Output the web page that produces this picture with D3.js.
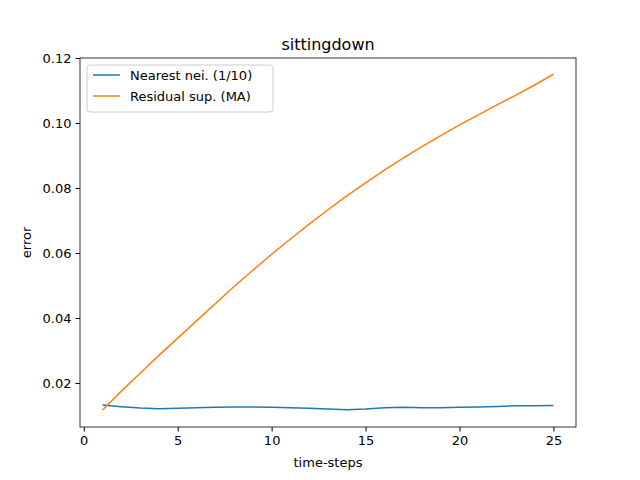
<!DOCTYPE html>
<html><head><meta charset="utf-8">
<script src="https://cdn.jsdelivr.net/npm/d3@7"></script>
<style>body{margin:0;background:#fff}text{font-family:"DejaVu Sans",sans-serif}</style>
</head><body>
<svg id="c" width="640" height="480"></svg>
<script>
const steps = d3.range(1, 26);
const nearest = [0.0132,0.0127,0.0123,0.0121,0.0122,0.0124,0.0125,0.0126,0.0126,0.0125,0.0124,0.0122,0.0120,0.0118,0.0120,0.0124,0.0125,0.0124,0.0124,0.0125,0.0126,0.0128,0.0130,0.0130,0.0131];
const residual = [0.0117,0.0175,0.0230,0.0285,0.0338,0.0391,0.0444,0.0497,0.0547,0.0596,0.0643,0.0689,0.0733,0.0776,0.0816,0.0855,0.0892,0.0927,0.0961,0.0994,0.1025,0.1056,0.1086,0.1117,0.1150];
const xTicks = [0,5,10,15,20,25];
const yTicks = [0.02,0.04,0.06,0.08,0.10,0.12];
const series = [
  {name:'Nearest nei. (1/10)', values:nearest, color:'#1f77b4'},
  {name:'Residual sup. (MA)', values:residual, color:'#ff7f0e'}
];

const svg = d3.select('#c');
const m = {left:80, right:576, top:58, bottom:427};
const x = d3.scaleLinear().domain([-0.2, 26.2]).range([m.left, m.right]);
const y = d3.scaleLinear().domain([0.00646, 0.12]).range([m.bottom, m.top]);

svg.append('g').attr('transform',`translate(0,${m.bottom})`)
  .call(d3.axisBottom(x).tickValues(xTicks).tickSize(4.5).tickPadding(4))
  .call(g=>g.select('.domain').remove())
  .selectAll('text').attr('font-size',13);
svg.append('g').attr('transform',`translate(${m.left},0)`)
  .call(d3.axisLeft(y).tickValues(yTicks).tickFormat(d3.format('.2f')).tickSize(4.5).tickPadding(4))
  .call(g=>g.select('.domain').remove())
  .selectAll('text').attr('font-size',13);

const line = d3.line().x((d,i)=>x(steps[i])).y(d=>y(d));
series.forEach(s=>{
  svg.append('path').datum(s.values).attr('d',line)
    .attr('fill','none').attr('stroke',s.color).attr('stroke-width',1.5);
});

svg.append('rect').attr('x',m.left).attr('y',m.top).attr('width',m.right-m.left).attr('height',m.bottom-m.top)
  .attr('fill','none').attr('stroke','#000').attr('stroke-width',0.8);

svg.append('text').attr('x',(m.left+m.right)/2).attr('y',50).attr('text-anchor','middle').attr('font-size',16).text('sittingdown');
svg.append('text').attr('x',(m.left+m.right)/2).attr('y',467).attr('text-anchor','middle').attr('font-size',13).text('time-steps');
svg.append('text').attr('transform',`translate(31,${(m.top+m.bottom)/2}) rotate(-90)`).attr('text-anchor','middle').attr('font-size',13).text('error');

const lg = svg.append('g').attr('transform','translate(87,65)');
lg.append('rect').attr('width',186).attr('height',47).attr('rx',3)
  .attr('fill','#fff').attr('fill-opacity',0.8).attr('stroke','#ccc');
series.forEach((s,i)=>{
  const yy = 10 + i*21;
  lg.append('line').attr('x1',6).attr('x2',33).attr('y1',yy).attr('y2',yy).attr('stroke',s.color).attr('stroke-width',1.5);
  lg.append('text').attr('x',43).attr('y',yy+4.5).attr('font-size',13).text(s.name);
});
</script>
</body></html>
